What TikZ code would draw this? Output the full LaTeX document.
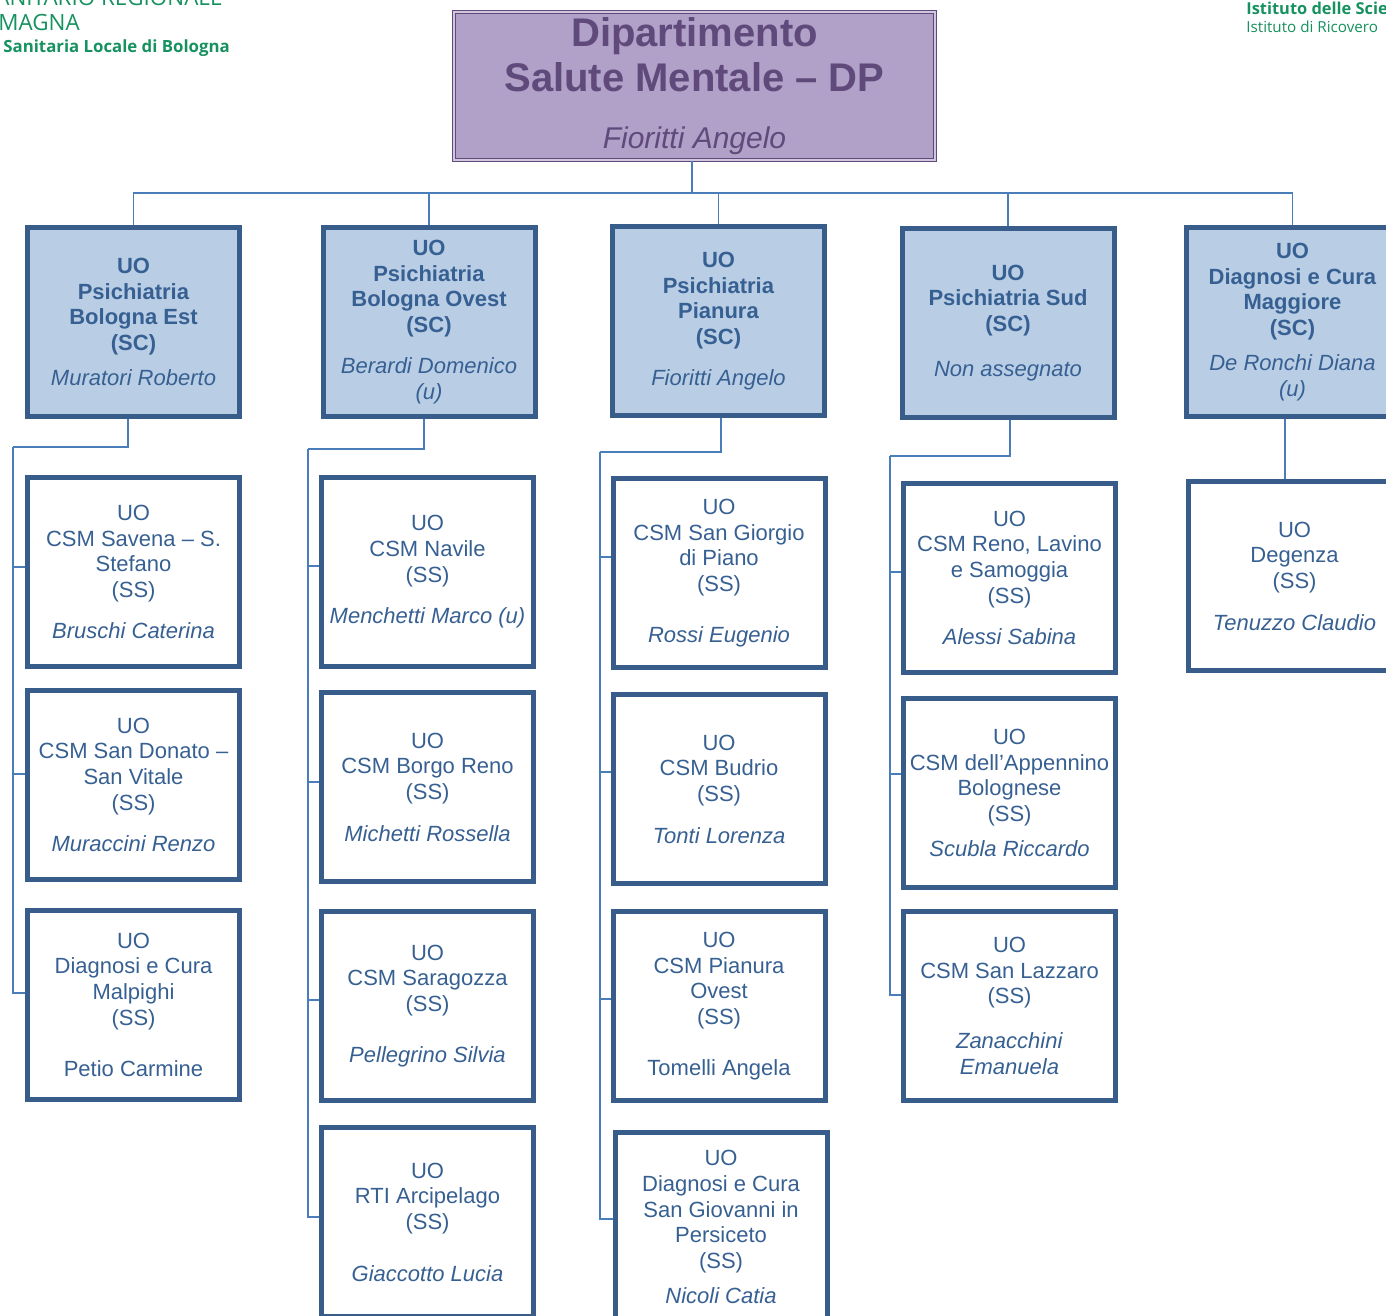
\documentclass[tikz,border=0pt]{standalone}
\usepackage{fontspec}
\setmainfont{Liberation Sans}
\newfontfamily\logofont{Open Sans}
\usetikzlibrary{calc}

\definecolor{boxblue}{HTML}{385D8A}
\definecolor{linkblue}{HTML}{4A7EBB}
\definecolor{headfill}{HTML}{B9CDE5}
\definecolor{textblue}{HTML}{376092}
\definecolor{topfill}{HTML}{B1A0C7}
\definecolor{topline}{HTML}{604A7B}
\definecolor{logogreen}{HTML}{16915F}

\tikzset{
  unitbox/.style = {draw = boxblue, line width = 2.5pt, inner sep = 0pt,
    minimum width = 106pt, minimum height = 94.5pt, align = center,
    text = textblue, font = \fontsize{11}{12.85}\selectfont},
  headbox/.style = {unitbox, fill = headfill},
  link/.style = {draw = linkblue, line width = 0.9pt},
  logotext/.style = {anchor = base west, inner sep = 0pt, text = logogreen}
}

\begin{document}
\begin{tikzpicture}[x = 0.5pt, y = -0.5pt]

  \useasboundingbox (0, 0) rectangle (1386, 1316);

  % Logo texts, cut by the page edges

  \node[logotext, font = \logofont\fontsize{11.2}{12}\selectfont] (logoa) at (-5, 6) {ANITARIO REGIONALE};
  \node[logotext, font = \logofont\fontsize{11.2}{12}\selectfont] (logob) at (-2, 31) {MAGNA};
  \node[logotext, font = \logofont\bfseries\fontsize{8.4}{10}\selectfont] (logoc) at (3, 53) {Sanitaria Locale di Bologna};
  \node[logotext, font = \logofont\bfseries\fontsize{8.2}{10}\selectfont] (logod) at (1246, 15) {Istituto delle Scie};
  \node[logotext, font = \logofont\fontsize{7.6}{10}\selectfont] (logoe) at (1246, 33) {Istituto di Ricovero};

  % The department on top

  \node[draw = topline, fill = topfill, line width = 0.6pt, double = topfill!60!white,
    double distance = 0.7pt, minimum width = 240.5pt, minimum height = 74pt, inner sep = 0pt,
    align = center, text = topline, font = \bfseries\fontsize{20}{22.5}\selectfont]
    (top) at (694.5, 86)
    {Dipartimento\\Salute Mentale -- DP\\[6pt]
     {\mdseries\itshape\fontsize{15}{17}\selectfont Fioritti Angelo}};

  % The five main units

  \node[headbox] (h1) at (133.5, 322) {\textbf{UO}\\\textbf{Psichiatria}\\\textbf{Bologna Est}\\\textbf{(SC)}\\[4.6pt]\textit{Muratori Roberto}};
  \node[headbox] (h2) at (429, 322) {\textbf{UO}\\\textbf{Psichiatria}\\\textbf{Bologna Ovest}\\\textbf{(SC)}\\[7.6pt]\textit{Berardi Domenico}\\\textit{(u)}};
  \node[headbox] (h3) at (718.5, 321) {\textbf{UO}\\\textbf{Psichiatria}\\\textbf{Pianura}\\\textbf{(SC)}\\[7.6pt]\textit{Fioritti Angelo}};
  \node[headbox] (h4) at (1008, 323) {\textbf{UO}\\\textbf{Psichiatria Sud}\\\textbf{(SC)}\\[9.6pt]\textit{Non assegnato}};
  \node[headbox] (h5) at (1292.5, 322) {\textbf{UO}\\\textbf{Diagnosi e Cura}\\\textbf{Maggiore}\\\textbf{(SC)}\\[4.6pt]\textit{De Ronchi Diana}\\\textit{(u)}};

  % First column

  \node[unitbox] (a1) at (133.5, 572) {UO\\CSM Savena -- S.\\Stefano\\(SS)\\[7.6pt]\textit{Bruschi Caterina}};
  \node[unitbox] (a2) at (133.5, 785) {UO\\CSM San Donato --\\San Vitale\\(SS)\\[8pt]\textit{Muraccini Renzo}};
  \node[unitbox] (a3) at (133.5, 1004.5) {UO\\Diagnosi e Cura\\Malpighi\\(SS)\\[12.6pt]Petio Carmine};

  % Second column

  \node[unitbox] (b1) at (427.5, 572) {UO\\CSM Navile\\(SS)\\[8pt]\textit{Menchetti Marco (u)}};
  \node[unitbox] (b2) at (427.5, 787) {UO\\CSM Borgo Reno\\(SS)\\[8pt]\textit{Michetti Rossella}};
  \node[unitbox] (b3) at (427.5, 1006) {UO\\CSM Saragozza\\(SS)\\[12.6pt]\textit{Pellegrino Silvia}};
  \node[unitbox] (b4) at (427.5, 1222) {UO\\RTI Arcipelago\\(SS)\\[13pt]\textit{Giaccotto Lucia}};

  % Third column

  \node[unitbox] (c1) at (719, 573) {UO\\CSM San Giorgio\\di Piano\\(SS)\\[12.6pt]\textit{Rossi Eugenio}};
  \node[unitbox] (c2) at (719, 789) {UO\\CSM Budrio\\(SS)\\[8pt]\textit{Tonti Lorenza}};
  \node[unitbox] (c3) at (719, 1006) {UO\\CSM Pianura\\Ovest\\(SS)\\[12.6pt]Tomelli Angela};
  \node[unitbox] (c4) at (721, 1227) {UO\\Diagnosi e Cura\\San Giovanni in\\Persiceto\\(SS)\\[4.6pt]\textit{Nicoli Catia}};

  % Fourth and fifth column

  \node[unitbox] (d1) at (1009.5, 578) {UO\\CSM Reno, Lavino\\e Samoggia\\(SS)\\[8pt]\textit{Alessi Sabina}};
  \node[unitbox] (d2) at (1009.5, 793) {UO\\CSM dell'Appennino\\Bolognese\\(SS)\\[4.6pt]\textit{Scubla Riccardo}};
  \node[unitbox] (d3) at (1009.5, 1006) {UO\\CSM San Lazzaro\\(SS)\\[9.6pt]\textit{Zanacchini}\\\textit{Emanuela}};
  \node[unitbox] (e1) at (1294.5, 576) {UO\\Degenza\\(SS)\\[8pt]\textit{Tenuzzo Claudio}};

  % Top bar between the department and the main units

  \coordinate (bar) at (692, 193);
  \draw[link] ([xshift = -1.25pt] top.south) -- (bar);
  \draw[link] (bar) -| (h1.north);
  \draw[link] (bar) -| (h5.north);
  \foreach \unit in {h2, h3, h4}
    \draw[link] (\unit.north) -- (\unit.north |- bar);

  % Trunk of each column, then one branch for each unit

  \coordinate (ta) at (13, 447);
  \coordinate (tb) at (308, 449);
  \coordinate (tc) at (600, 452);
  \coordinate (td) at (890, 456);

  \draw[link] ([xshift = -2.75pt] h1.south) |- (ta);
  \draw[link] ([xshift = -2.5pt] h2.south) |- (tb);
  \draw[link] ([xshift = 1.25pt] h3.south) |- (tc);
  \draw[link] ([xshift = 1pt] h4.south) |- (td);
  \draw[link, line width = 1.2pt] ([xshift = -3.75pt] h5.south) -- ([xshift = -4.75pt] e1.north);

  \foreach \unit/\shift in {a1/-5, a2/-11, a3/-11.5}
    \draw[link] (ta) |- ($(\unit.west) + (0, \shift)$);
  \foreach \unit/\shift in {b1/-6, b2/-5, b3/-6, b4/-5}
    \draw[link] (tb) |- ($(\unit.west) + (0, \shift)$);
  \foreach \unit/\shift in {c1/-16, c2/-17, c3/-7, c4/-8}
    \draw[link] (tc) |- ($(\unit.west) + (0, \shift)$);
  \foreach \unit/\shift in {d1/-6, d2/-19, d3/-11}
    \draw[link] (td) |- ($(\unit.west) + (0, \shift)$);

\end{tikzpicture}
\end{document}
